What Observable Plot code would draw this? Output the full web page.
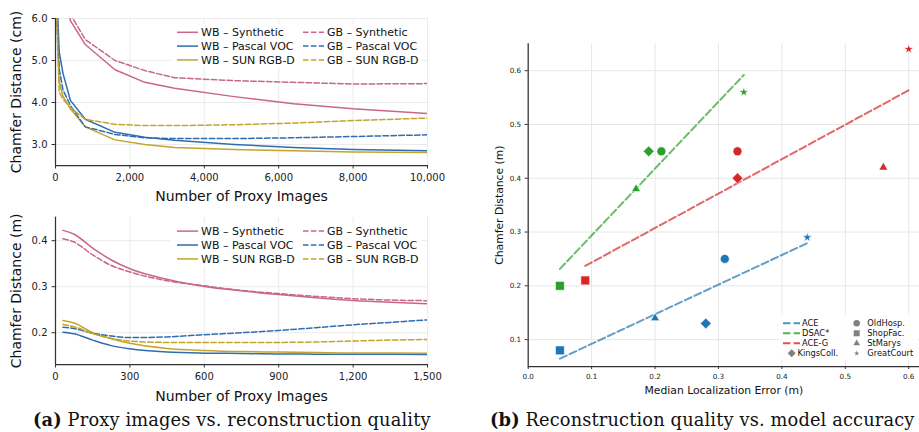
<!DOCTYPE html>
<html>
<head>
<meta charset="utf-8">
<script src="https://cdn.jsdelivr.net/npm/d3@7"></script>
<script src="https://cdn.jsdelivr.net/npm/@observablehq/plot@0.6"></script>
<style>
  html, body { margin: 0; padding: 0; background: #fff; }
  #root { position: relative; width: 919px; height: 432px; overflow: hidden; background: #fff; }
  #root svg { overflow: hidden; }
  .caption { position: absolute; font-family: "DejaVu Serif", serif; font-size: 17.8px; letter-spacing: 0.15px; color: #111; white-space: nowrap; line-height: 1; }
  .caption b { font-weight: bold; }
</style>
</head>
<body>
<div id="root"></div>
<script>
// ================= DATA =================
// Panel (a) top: Chamfer distance (cm) vs number of proxy images
const proxyCountsCm = [25, 100, 200, 400, 800, 1600, 2400, 3200, 4800, 6400, 8000, 10000];
const wbSyntheticCm = [9.0, 8.0, 6.9, 5.95, 5.38, 4.78, 4.48, 4.34, 4.14, 3.97, 3.85, 3.74];
const wbPascalCm    = [6.8, 5.2, 4.7, 4.05, 3.60, 3.29, 3.17, 3.10, 3.00, 2.93, 2.88, 2.85];
const wbSunCm       = [6.5, 4.5, 4.15, 3.85, 3.42, 3.11, 3.00, 2.93, 2.88, 2.85, 2.82, 2.81];
const gbSyntheticCm = [9.5, 8.3, 7.2, 6.1, 5.5, 5.0, 4.76, 4.59, 4.52, 4.48, 4.44, 4.45];
const gbPascalCm    = [6.3, 4.8, 4.3, 3.93, 3.42, 3.24, 3.16, 3.14, 3.14, 3.16, 3.19, 3.23];
const gbSunCm       = [6.1, 4.25, 4.08, 3.88, 3.60, 3.48, 3.45, 3.45, 3.47, 3.51, 3.57, 3.63];

// Panel (a) bottom: Chamfer distance (m) vs number of proxy images
const proxyCountsM = [30, 75, 150, 225, 300, 450, 600, 750, 900, 1050, 1200, 1350, 1500];
const wbSyntheticM = [0.4224, 0.414, 0.384, 0.358, 0.339, 0.316, 0.3006, 0.291, 0.283, 0.276, 0.270, 0.266, 0.263];
const wbPascalM    = [0.2013, 0.198, 0.184, 0.172, 0.165, 0.158, 0.1557, 0.155, 0.154, 0.1535, 0.153, 0.153, 0.1528];
const wbSunM       = [0.2267, 0.221, 0.200, 0.187, 0.177, 0.166, 0.1615, 0.159, 0.158, 0.157, 0.156, 0.156, 0.1557];
const gbSyntheticM = [0.404, 0.397, 0.369, 0.346, 0.332, 0.313, 0.302, 0.292, 0.285, 0.279, 0.274, 0.271, 0.2696];
const gbPascalM    = [0.212, 0.209, 0.199, 0.193, 0.1895, 0.191, 0.1957, 0.200, 0.205, 0.211, 0.2173, 0.2225, 0.228];
const gbSunM       = [0.218, 0.213, 0.198, 0.188, 0.182, 0.179, 0.179, 0.179, 0.179, 0.180, 0.182, 0.184, 0.1854];

const seriesNames = ["WB – Synthetic", "WB – Pascal VOC", "WB – SUN RGB-D", "GB – Synthetic", "GB – Pascal VOC", "GB – SUN RGB-D"];

// Tick labels / domains
const xTicksCm = [0, 2000, 4000, 6000, 8000, 10000];
const yTicksCm = [3.0, 4.0, 5.0, 6.0];
const xDomainCm = [0, 10000];
const yDomainCm = [2.5, 6.0];
const xTicksM = [0, 300, 600, 900, 1200, 1500];
const yTicksM = [0.2, 0.3, 0.4];
const xDomainM = [0, 1500];
const yDomainM = [0.131, 0.451];

// Panel (b): median localization error (m) vs Chamfer distance (m)
const methods = ["ACE", "DSAC*", "ACE-G"];
const scenes = ["OldHosp.", "ShopFac.", "StMarys", "KingsColl.", "GreatCourt"];
const aceError    = [0.31, 0.05, 0.20, 0.28, 0.44];
const aceChamfer  = [0.25, 0.08, 0.14, 0.13, 0.29];
const dsacError   = [0.21, 0.05, 0.17, 0.19, 0.34];
const dsacChamfer = [0.45, 0.20, 0.38, 0.45, 0.56];
const aceGError   = [0.33, 0.09, 0.56, 0.33, 0.60];
const aceGChamfer = [0.45, 0.21, 0.42, 0.40, 0.64];
const errTicks = [0.0, 0.1, 0.2, 0.3, 0.4, 0.5, 0.6];
const cdTicks = [0.1, 0.2, 0.3, 0.4, 0.5, 0.6];
const errDomain = [0, 0.617];
const cdDomain = [0.05, 0.65];

// ================= STYLE =================
const seriesColor = ["#c8668c", "#2f6db0", "#c4a42c", "#c8668c", "#2f6db0", "#c4a42c"];
const seriesDashed = [false, false, false, true, true, true];
const methodColor = ["#1f77b4", "#2ca02c", "#d62728"];
const sceneSymbol = ["circle", "square", "triangle", "diamond2", "star"];
const sceneR = [4.5, 5.0, 3.3, 4.9, 3.0];
const axisColor = "#333";
const gridColor = "#ebebeb";
const FONT = "DejaVu Sans";

const root = document.getElementById("root");
function place(el, left, top) {
  el.style.position = "absolute";
  el.style.left = left + "px";
  el.style.top = top + "px";
  root.appendChild(el);
}

function proxyPlot(cfg) {
  const valuesBySeries = cfg.values;
  const marks = [
    Plot.gridX(cfg.xTicks, {stroke: gridColor, strokeOpacity: 1, strokeWidth: 1}),
    Plot.gridY(cfg.yTicks, {stroke: gridColor, strokeOpacity: 1, strokeWidth: 1})
  ];
  seriesNames.forEach((name, i) => {
    const rows = cfg.xs.map((x, j) => ({count: x, cd: valuesBySeries[i][j], series: name}));
    marks.push(Plot.line(rows, {
      x: "count", y: "cd", stroke: seriesColor[i], strokeWidth: 1.5,
      strokeDasharray: seriesDashed[i] ? "5.5,2.4" : "none",
      curve: cfg.curve, clip: true
    }));
  });
  marks.push(
    Plot.ruleX([cfg.xDomain[0]], {stroke: axisColor, strokeWidth: 1.25}),
    Plot.ruleY([cfg.yDomain[0]], {stroke: axisColor, strokeWidth: 1.25}),
    Plot.axisX(cfg.xTicks, {tickFormat: cfg.xFormat, tickSize: 3.5, tickPadding: 4.5, stroke: axisColor, fill: "#222", fontSize: 10, label: null}),
    Plot.axisY(cfg.yTicks, {tickFormat: cfg.yFormat, tickSize: 3.5, tickPadding: 4.5, stroke: axisColor, fill: "#222", fontSize: 10, label: null}),
    Plot.text([cfg.xLabel], {text: d => d, frameAnchor: "bottom", lineAnchor: "middle", textAnchor: "middle", dy: cfg.xLabelDy, fontSize: 14, fill: "#111"}),
    Plot.text([cfg.yLabel], {text: d => d, frameAnchor: "left", lineAnchor: "middle", textAnchor: "middle", dx: -39, rotate: -90, fontSize: 14, fill: "#111"})
  );
  return Plot.plot({
    width: 447, height: cfg.height,
    marginLeft: 55, marginRight: 20, marginTop: cfg.marginTop, marginBottom: cfg.marginBottom,
    style: {fontFamily: FONT, fontSize: "10px", background: "white", color: "#222"},
    x: {domain: cfg.xDomain},
    y: {domain: cfg.yDomain},
    marks
  });
}

const topPlot = proxyPlot({
  xs: proxyCountsCm,
  values: [wbSyntheticCm, wbPascalCm, wbSunCm, gbSyntheticCm, gbPascalCm, gbSunCm],
  xTicks: xTicksCm, yTicks: yTicksCm, xDomain: xDomainCm, yDomain: yDomainCm,
  xFormat: d3.format(","), yFormat: d3.format(".1f"),
  xLabel: "Number of Proxy Images", yLabel: "Chamfer Distance (cm)",
  curve: "linear", height: 205, marginTop: 18, marginBottom: 40, xLabelDy: 31
});
place(topPlot, 0, 0);

const bottomPlot = proxyPlot({
  xs: proxyCountsM,
  values: [wbSyntheticM, wbPascalM, wbSunM, gbSyntheticM, gbPascalM, gbSunM],
  xTicks: xTicksM, yTicks: yTicksM, xDomain: xDomainM, yDomain: yDomainM,
  xFormat: d3.format(","), yFormat: d3.format(".1f"),
  xLabel: "Number of Proxy Images", yLabel: "Chamfer Distance (m)",
  curve: "monotone-x", height: 200, marginTop: 11.7, marginBottom: 41, xLabelDy: 32
});
place(bottomPlot, 0, 205);

// ---- panel (b) ----
const errByMethod = [aceError, dsacError, aceGError];
const cdByMethod = [aceChamfer, dsacChamfer, aceGChamfer];
const pointRows = [];
methods.forEach((m, i) => scenes.forEach((s, j) => pointRows.push({method: m, scene: s, err: errByMethod[i][j], cd: cdByMethod[i][j]})));

const rightPlot = Plot.plot({
  width: 439, height: 400,
  marginLeft: 47.7, marginRight: 0, marginTop: 43.3, marginBottom: 34,
  style: {fontFamily: FONT, fontSize: "7.2px", background: "white", color: "#222"},
  x: {domain: errDomain},
  y: {domain: cdDomain},
  color: {domain: methods, range: methodColor},
  marks: [
    Plot.gridX(errTicks, {stroke: "#e6e6e6", strokeOpacity: 1, strokeWidth: 1}),
    Plot.gridY(cdTicks, {stroke: "#e6e6e6", strokeOpacity: 1, strokeWidth: 1}),
    Plot.linearRegressionY(pointRows, {x: "err", y: "cd", stroke: "method", ci: 0, strokeWidth: 2, strokeOpacity: 0.7, strokeDasharray: "7.4,3.2"}),
    ...scenes.map((s, j) => Plot.dot(pointRows.filter(d => d.scene === s), {
      x: "err", y: "cd", fill: "method", symbol: sceneSymbol[j], r: sceneR[j], stroke: "white", strokeWidth: 0.6
    })),
    Plot.ruleX([errDomain[0]], {stroke: axisColor, strokeWidth: 1.25}),
    Plot.ruleY([cdDomain[0]], {stroke: axisColor, strokeWidth: 1.25}),
    Plot.axisX(errTicks, {tickFormat: d3.format(".1f"), tickSize: 3, tickPadding: 4, stroke: axisColor, fill: "#222", fontSize: 7.2, label: null}),
    Plot.axisY(cdTicks, {tickFormat: d3.format(".1f"), tickSize: 3, tickPadding: 4, stroke: axisColor, fill: "#222", fontSize: 7.2, label: null}),
    Plot.text(["Median Localization Error (m)"], {text: d => d, frameAnchor: "bottom", lineAnchor: "middle", textAnchor: "middle", dy: 24, fontSize: 10.8, fill: "#111"}),
    Plot.text(["Chamfer Distance (m)"], {text: d => d, frameAnchor: "left", lineAnchor: "middle", textAnchor: "middle", dx: -28.7, rotate: -90, fontSize: 10.8, fill: "#111"})
  ]
});
place(rightPlot, 480, 0);

// ---- legends (overlay) ----
const overlay = d3.select(root).append("svg")
  .attr("width", 919).attr("height", 432)
  .style("position", "absolute").style("left", "0px").style("top", "0px")
  .style("pointer-events", "none").style("overflow", "visible")
  .attr("font-family", FONT);

function seriesLegend(box, firstRowY, rowGap) {
  const g = overlay.append("g");
  g.append("rect").attr("x", box.x).attr("y", box.y).attr("width", box.w).attr("height", box.h)
    .attr("rx", 2).attr("fill", "white").attr("fill-opacity", 0.85);
  const lineX = [177, 303], textX = [201, 327];
  seriesNames.forEach((name, i) => {
    const col = i < 3 ? 0 : 1, row = i % 3;
    const y = firstRowY + row * rowGap;
    g.append("line").attr("x1", lineX[col]).attr("x2", lineX[col] + 21).attr("y1", y).attr("y2", y)
      .attr("stroke", seriesColor[i]).attr("stroke-width", 1.5)
      .attr("stroke-dasharray", seriesDashed[i] ? "5.5,2.4" : null);
    g.append("text").attr("x", textX[col]).attr("y", y).attr("dy", "0.35em")
      .attr("font-size", 11).attr("fill", "#111").text(name);
  });
}
seriesLegend({x: 170, y: 24, w: 252, h: 44}, 32.3, 13.8);
seriesLegend({x: 170, y: 223, w: 252, h: 44}, 231.1, 13.9);

(function methodLegend() {
  const g = overlay.append("g");
  g.append("rect").attr("x", 779).attr("y", 314).attr("width", 139).attr("height", 46)
    .attr("rx", 2).attr("fill", "white").attr("fill-opacity", 0.85);
  const rowsY = [323.3, 333.3, 343.3, 353.3];
  methods.forEach((m, i) => {
    const y = rowsY[i];
    g.append("line").attr("x1", 783).attr("x2", 800).attr("y1", y).attr("y2", y)
      .attr("stroke", methodColor[i]).attr("stroke-width", 2).attr("stroke-opacity", 0.8)
      .attr("stroke-dasharray", "7.4,3.2");
    g.append("text").attr("x", 802).attr("y", y).attr("dy", "0.35em").attr("font-size", 8.3).attr("fill", "#111").text(m);
  });
  const symbolFor = {circle: d3.symbolCircle, square: d3.symbolSquare, triangle: d3.symbolTriangle, diamond2: d3.symbolDiamond2, star: d3.symbolStar};
  const legendSize = {circle: 34, square: 36, triangle: 19, diamond2: 41, star: 9};
  const entries = [
    {scene: 3, x: 791.7, tx: 797.5, y: rowsY[3]},
    {scene: 0, x: 856.7, tx: 867.3, y: rowsY[0]},
    {scene: 1, x: 856.7, tx: 867.3, y: rowsY[1]},
    {scene: 2, x: 856.7, tx: 867.3, y: rowsY[2]},
    {scene: 4, x: 856.7, tx: 867.3, y: rowsY[3]}
  ];
  entries.forEach(e => {
    const sym = sceneSymbol[e.scene];
    g.append("path").attr("d", d3.symbol(symbolFor[sym], legendSize[sym])())
      .attr("transform", `translate(${e.x},${e.y})`).attr("fill", "#808080");
    g.append("text").attr("x", e.tx).attr("y", e.y).attr("dy", "0.35em").attr("font-size", 8.3).attr("fill", "#111").text(scenes[e.scene]);
  });
})();

// ---- captions ----
const capA = document.createElement("div");
capA.className = "caption";
capA.innerHTML = "<b>(a)</b> Proxy images vs. reconstruction quality";
capA.style.left = "33px"; capA.style.top = "411px";
root.appendChild(capA);
const capB = document.createElement("div");
capB.className = "caption";
capB.innerHTML = "<b>(b)</b> Reconstruction quality vs. model accuracy";
capB.style.left = "490px"; capB.style.top = "411px";
root.appendChild(capB);
</script>
</body>
</html>
